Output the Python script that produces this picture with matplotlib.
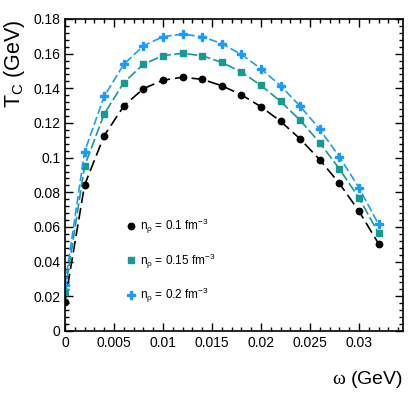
import numpy as np
import matplotlib
matplotlib.use("Agg")
import matplotlib.pyplot as plt
from matplotlib.ticker import MultipleLocator, FuncFormatter

plt.rcParams['font.family'] = ['Liberation Sans', 'DejaVu Sans']
plt.rcParams['mathtext.fontset'] = 'custom'
plt.rcParams['mathtext.rm'] = 'Liberation Serif'
plt.rcParams['mathtext.sf'] = 'Liberation Sans'
plt.rcParams['mathtext.it'] = 'Liberation Sans:italic'

# omega (GeV)
omega = [0.0, 0.002, 0.004, 0.006, 0.008, 0.010, 0.012, 0.014, 0.016,
         0.018, 0.020, 0.022, 0.024, 0.026, 0.028, 0.030, 0.032]

# T_C (GeV) for the three densities
tc_01 = [0.0169, 0.0842, 0.1127, 0.1298, 0.1398, 0.1447, 0.1464, 0.1452, 0.1415,
         0.1363, 0.1294, 0.1210, 0.1108, 0.0988, 0.0852, 0.0692, 0.0504]
tc_015 = [0.0223, 0.0952, 0.1252, 0.1433, 0.1539, 0.1589, 0.1602, 0.1588, 0.1550,
          0.1494, 0.1417, 0.1325, 0.1216, 0.1086, 0.0936, 0.0768, 0.0565]
tc_02 = [0.0265, 0.1035, 0.1354, 0.1539, 0.1645, 0.1698, 0.1713, 0.1698, 0.1658,
         0.1596, 0.1513, 0.1415, 0.1297, 0.1164, 0.1006, 0.0827, 0.0616]

labels = [r"n$_{\mathsf{ρ}}$ = 0.1 fm$^{\mathsf{-3}}$",
          r"n$_{\mathsf{ρ}}$ = 0.15 fm$^{\mathsf{-3}}$",
          r"n$_{\mathsf{ρ}}$ = 0.2 fm$^{\mathsf{-3}}$"]

fig = plt.figure(figsize=(4.16, 3.98), dpi=100)
ax = fig.add_axes([65/416, 1-331/398, (403-65)/416, (331-19)/398])

ax.plot(omega, tc_01, color='black', lw=1.2, dashes=(7, 3),
        marker='o', ms=4.6, label=labels[0])
ax.plot(omega, tc_015, color='#169a93', lw=1.2, dashes=(6, 2),
        marker='s', ms=4.4, label=labels[1])
ax.plot(omega, tc_02, color='#1a9cff', lw=1.2, dashes=(5, 2),
        marker='P', ms=6, label=labels[2])

ax.set_xlim(0, 0.0345)
ax.set_ylim(0, 0.18)

ax.xaxis.set_major_locator(MultipleLocator(0.005))
ax.xaxis.set_minor_locator(MultipleLocator(0.001))
ax.yaxis.set_major_locator(MultipleLocator(0.02))
ax.yaxis.set_minor_locator(MultipleLocator(0.004))
fmt = FuncFormatter(lambda v, p: "%g" % round(v, 6))
ax.xaxis.set_major_formatter(fmt)
ax.yaxis.set_major_formatter(fmt)

ax.tick_params(which='both', direction='in', top=True, right=True, labelsize=10, width=1)
ax.tick_params(which='major', length=6)
ax.tick_params(which='minor', length=3)
for s in ax.spines.values():
    s.set_linewidth(1.2)

ax.set_xlabel(r"$\mathrm{ω}$ (GeV)", fontsize=14, loc='right', labelpad=14)
ax.set_ylabel(r"T$_{\mathsf{C}}$ (GeV)", fontsize=15.5, loc='top', labelpad=4)

leg = ax.legend(loc='upper left', bbox_to_anchor=(0.15, 0.40), frameon=False,
                fontsize=8.5, labelspacing=1.3, handlelength=0.8, handletextpad=0.4,
                numpoints=1)
for h in leg.legend_handles:
    h.set_linestyle('none')

fig.savefig("out.png", dpi=100)
